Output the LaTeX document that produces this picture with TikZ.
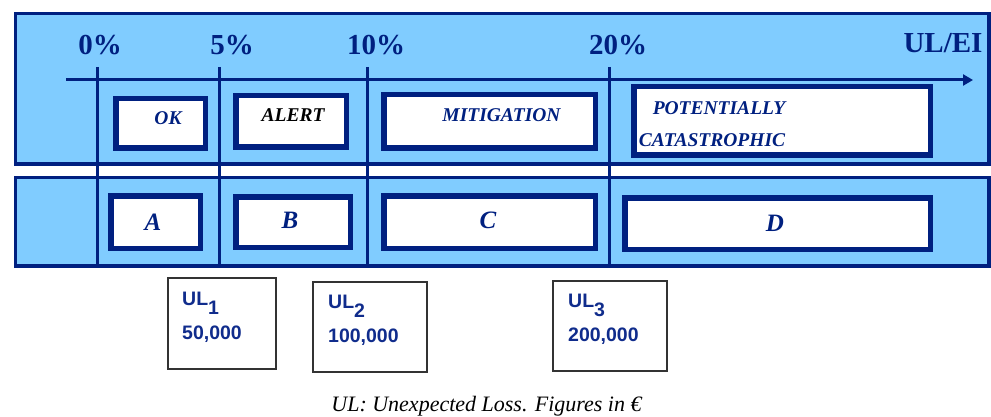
\documentclass[tikz,border=0pt]{standalone}
\usepackage{fontspec}
\setmainfont{Liberation Serif}
\newfontfamily\ulsans{Liberation Sans}
\usetikzlibrary{arrows.meta}
\definecolor{lightblue}{RGB}{128,204,255}
\definecolor{navy}{RGB}{0,32,128}
\definecolor{ultext}{RGB}{16,44,140}
\tikzset{
  band/.style={fill=lightblue, draw=navy, line width=3.5pt},
  zone/.style={fill=white, draw=navy, line width=5.5pt, inner sep=0pt, outer sep=0pt},
  vline/.style={draw=navy, line width=3pt},
  pct/.style={font=\fontsize{29}{34}\selectfont\bfseries, text=navy, anchor=base, inner sep=0pt},
  lab/.style={font=\fontsize{19.5}{23}\selectfont\bfseries\itshape, text=navy, anchor=base, inner sep=0pt},
  letterlab/.style={font=\fontsize{25}{30}\selectfont\bfseries\itshape, text=navy, anchor=base, inner sep=0pt},
  ulbox/.style={draw=black!80, line width=1.3pt, fill=white, anchor=north west, inner sep=0pt, outer sep=0pt},
  ultxt/.style={font=\ulsans\fontsize{19.5}{23}\selectfont\bfseries, text=ultext, anchor=base west, inner sep=0pt},
}
\begin{document}
\begin{tikzpicture}[x=1pt,y=-1pt]
\useasboundingbox (0,0) rectangle (991,417);
% bands
\draw[band] (15.5,13.5) rectangle (989,164);
\draw[band] (15.5,177.5) rectangle (989,266);
% vertical lines
\foreach \n/\x in {v0/97,v5/219,v10/367,v20/609}{
  \coordinate (\n t) at (\x,67);
  \coordinate (\n b) at (\x,266);
  \draw[vline] (\n t) -- (\n b);
}
% axis
\coordinate (axs) at (66,80);
\coordinate (axe) at (973,80);
\draw[vline, -{Triangle[length=10pt,width=11pt]}] (axs) -- (axe);
% percent labels
\node[pct] (p0) at (100,55) {0\%};
\node[pct] (p5) at (232,55) {5\%};
\node[pct] (p10) at (376,55) {10\%};
\node[pct] (p20) at (618,55) {20\%};
\node[pct] (ulei) at (943,53) {UL/EI};
% top zones
\node[zone, minimum width=89.5pt, minimum height=49.5pt] (okb) at (160.5,123.5) {};
\node[zone, minimum width=110.5pt, minimum height=51.5pt] (alb) at (291,121.5) {};
\node[zone, minimum width=211.5pt, minimum height=53.5pt] (mitb) at (489.5,121.5) {};
\node[zone, minimum width=296.5pt, minimum height=68.5pt] (potb) at (782,121) {};
\node[lab] (okl) at (168,125) {OK};
\node[lab, text=black] (all) at (293,122) {ALERT};
\node[lab] (mitl) at (501.5,121.7) {MITIGATION};
\node[lab] (potl) at (719,115) {POTENTIALLY};
\node[lab] (catl) at (712,147) {CATASTROPHIC};
% bottom zones
\node[zone, minimum width=89.5pt, minimum height=52.5pt] (ab) at (155.5,222) {};
\node[zone, minimum width=114.5pt, minimum height=50.5pt] (bb) at (293,222) {};
\node[zone, minimum width=211.5pt, minimum height=52.5pt] (cb) at (489.5,222) {};
\node[zone, minimum width=305.5pt, minimum height=51.5pt] (db) at (777.5,223.5) {};
\node[letterlab] (al) at (153,230) {A};
\node[letterlab] (bl) at (290,228) {B};
\node[letterlab] (cl) at (488,228) {C};
\node[letterlab] (dl) at (775,231.5) {D};
% UL boxes
\node[ulbox, minimum width=108pt, minimum height=91pt] (ul1) at (168,278) {};
\node[ulbox, minimum width=114pt, minimum height=90pt] (ul2) at (313,282) {};
\node[ulbox, minimum width=114pt, minimum height=90pt] (ul3) at (553,281) {};
\node[ultxt] (ul1a) at (182,305) {UL\raisebox{-9pt}{1}};
\node[ultxt] (ul1b) at (182,339) {50,000};
\node[ultxt] (ul2a) at (328,308) {UL\raisebox{-9pt}{2}};
\node[ultxt] (ul2b) at (328,342) {100,000};
\node[ultxt] (ul3a) at (568,307) {UL\raisebox{-9pt}{3}};
\node[ultxt] (ul3b) at (568,341) {200,000};
% caption
\node[font=\fontsize{22}{26}\selectfont\itshape, anchor=base, inner sep=0pt] (cap) at (486.5,411) {UL: Unexpected Loss. Figures in €};
\end{tikzpicture}
\end{document}
